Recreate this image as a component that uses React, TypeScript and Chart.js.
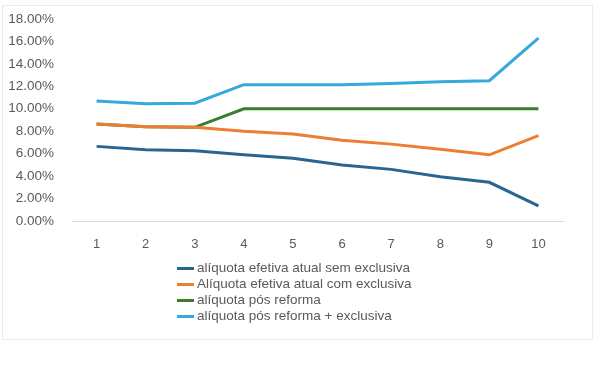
import React, { useEffect, useRef } from "react";
import { Chart, registerables } from "chart.js";

Chart.register(...registerables);

const categories = ["1", "2", "3", "4", "5", "6", "7", "8", "9", "10"];
const semExclusiva = [6.65, 6.35, 6.25, 5.9, 5.6, 5.0, 4.6, 3.95, 3.45, 1.35];
const comExclusiva = [8.65, 8.4, 8.35, 8.0, 7.75, 7.2, 6.85, 6.4, 5.9, 7.6];
const posReforma = [8.65, 8.4, 8.35, 10.0, 10.0, 10.0, 10.0, 10.0, 10.0, 10.0];
const posReformaExclusiva = [10.7, 10.45, 10.5, 12.15, 12.15, 12.15, 12.25, 12.4, 12.5, 16.3];
const seriesNames = [
  "alíquota efetiva atual sem exclusiva",
  "Alíquota efetiva atual com exclusiva",
  "alíquota pós reforma",
  "alíquota pós reforma + exclusiva",
];
const seriesColors = ["#2a6592", "#ed7d31", "#3b7d2c", "#33a9dd"];

const FONT = "'Liberation Sans', Arial, sans-serif";

export default function App() {
  const ref = useRef<HTMLCanvasElement | null>(null);

  useEffect(() => {
    document.body.style.margin = "0";
    const ctx = ref.current!;
    const seriesData = [semExclusiva, comExclusiva, posReforma, posReformaExclusiva];
    const chart = new Chart(ctx, {
      type: "line",
      data: {
        labels: categories,
        datasets: seriesData.map((d, i) => ({
          label: seriesNames[i],
          data: d,
          borderColor: seriesColors[i],
          backgroundColor: seriesColors[i],
          borderWidth: 3,
          pointRadius: 0,
          tension: 0,
          fill: false,
        })),
      },
      options: {
        animation: false,
        responsive: false,
        maintainAspectRatio: false,
        layout: { padding: { top: 19, right: 37, bottom: 131, left: 0 } },
        plugins: { legend: { display: false }, tooltip: { enabled: false } },
        scales: {
          x: {
            offset: true,
            grid: { display: false },
            border: { display: true, color: "#d9d9d9", width: 1 },
            ticks: { color: "#595959", font: { family: FONT, size: 13 }, padding: 8 },
            afterFit: (s: any) => {
              s.height = 30;
            },
          },
          y: {
            min: 0,
            max: 18,
            grid: { display: false },
            border: { display: false },
            ticks: {
              stepSize: 2,
              color: "#595959",
              font: { family: FONT, size: 13.5 },
              padding: 10,
              callback: (v: any) => Number(v).toFixed(2) + "%",
            },
            afterFit: (s: any) => {
              s.width = 72;
            },
          },
        },
      },
    });
    return () => chart.destroy();
  }, []);

  return (
    <div style={{ position: "relative", width: 600, height: 382, background: "#fff" }}>
      <div
        style={{
          position: "absolute",
          left: 2,
          top: 5,
          width: 591,
          height: 335,
          border: "1px solid #ececec",
          boxSizing: "border-box",
        }}
      />
      <canvas ref={ref} width={600} height={382} style={{ position: "absolute", left: 0, top: 0 }} />
      <div
        style={{
          position: "absolute",
          left: 177,
          top: 260,
          fontFamily: FONT,
          fontSize: 13.5,
          color: "#595959",
          lineHeight: "16px",
        }}
      >
        {seriesNames.map((n, i) => (
          <div key={n} style={{ display: "flex", alignItems: "center", height: 16 }}>
            <span
              style={{
                display: "inline-block",
                width: 17,
                height: 3,
                background: seriesColors[i],
                marginRight: 3,
              }}
            />
            <span>{n}</span>
          </div>
        ))}
      </div>
    </div>
  );
}
